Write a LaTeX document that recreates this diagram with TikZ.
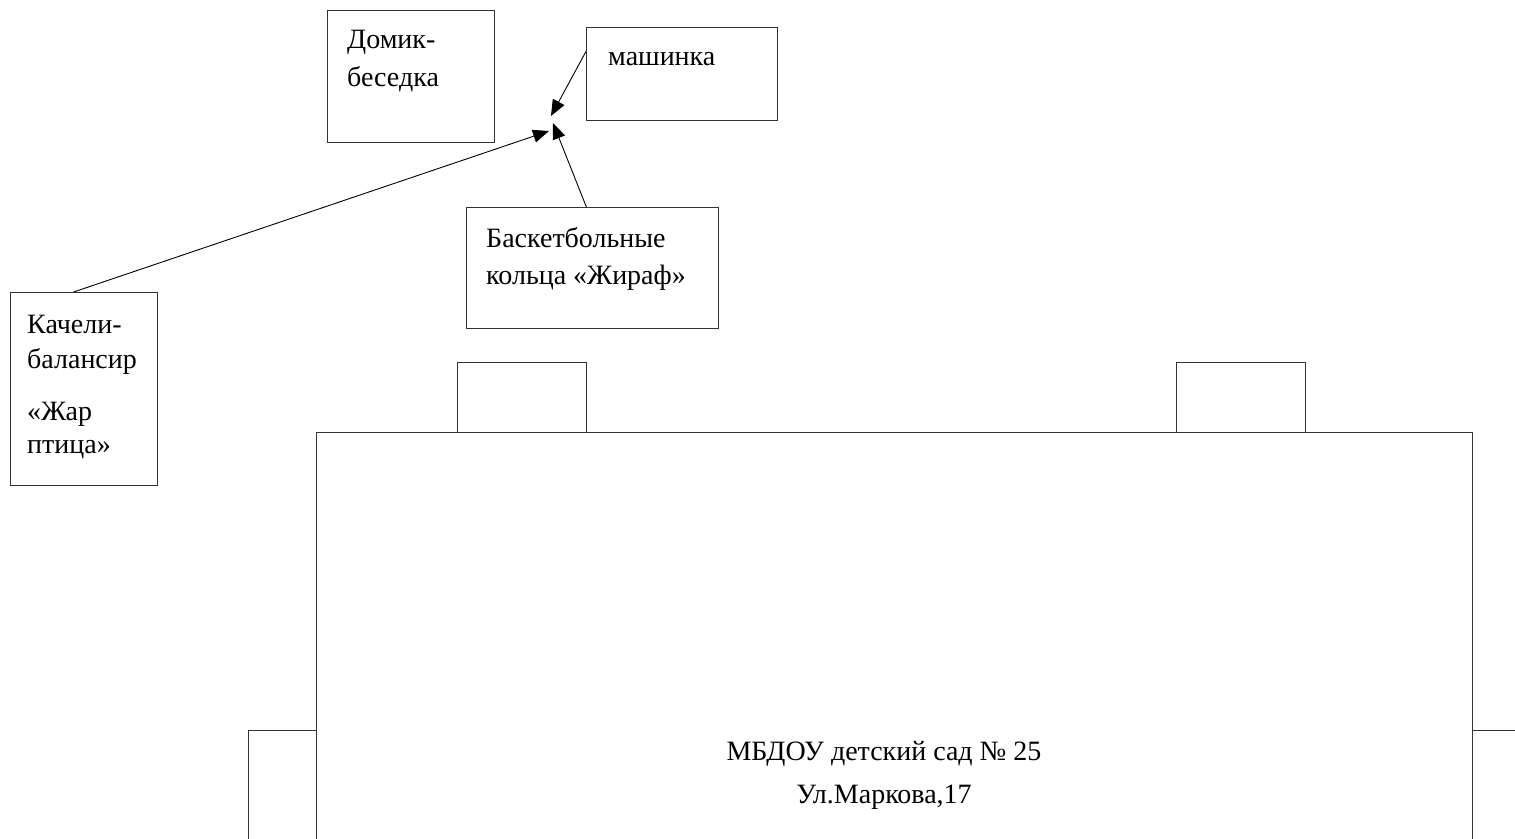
\documentclass[tikz,border=0pt]{standalone}
\usepackage{fontspec}
\setmainfont{Liberation Serif}
\usetikzlibrary{arrows.meta,calc}
\begin{document}
\begin{tikzpicture}[x=1pt,y=-1pt,
  box/.style={draw=black!80, line width=0.9pt, inner sep=0pt, anchor=north west},
  lbl/.style={anchor=base west, inner sep=0pt, font=\fontsize{28}{34}\selectfont},
  clbl/.style={anchor=base, inner sep=0pt, font=\fontsize{28}{34}\selectfont},
  conn/.style={line width=0.9pt, -{Triangle[length=16pt,width=13pt]}}]
\useasboundingbox (0,0) rectangle (1515,838);
\fill[white] (0,0) rectangle (1515,838);
\begin{scope}
\clip (0,0) rectangle (1515,838);
% boxes
\node[box, minimum width=167pt, minimum height=132pt] (dom) at (327,10) {};
\node[box, minimum width=191pt, minimum height=93pt] (mash) at (586,27) {};
\node[box, minimum width=252pt, minimum height=121pt] (bask) at (466,207) {};
\node[box, minimum width=147pt, minimum height=193pt] (kach) at (10,292) {};
\node[box, minimum width=129pt, minimum height=70pt] (sma) at (457,362) {};
\node[box, minimum width=129pt, minimum height=70pt] (smb) at (1176,362) {};
\node[box, minimum width=68pt, minimum height=130pt] (lbox) at (248,730) {};
\node[box, minimum width=100pt, minimum height=130pt] (rbox) at (1472,730) {};
\node[box, fill=white, minimum width=1156pt, minimum height=430pt] (main) at (316,432) {};
% texts
\node[lbl] (dom1) at (347,48) {Домик-};
\node[lbl] (dom2) at (347,86) {беседка};
\node[lbl] (mash1) at (608,65) {машинка};
\node[lbl] (bask1) at (486,247) {Баскетбольные};
\node[lbl] (bask2) at (486,284) {кольца «Жираф»};
\node[lbl] (kach1) at (27,333) {Качели-};
\node[lbl] (kach2) at (27,368) {балансир};
\node[lbl] (kach3) at (27,420) {«Жар};
\node[lbl] (kach4) at (27,453) {птица»};
\node[clbl] (main1) at (884,760) {МБДОУ детский сад № 25};
\node[clbl] (main2) at (884,803) {Ул.Маркова,17};
% connectors
\coordinate (t1) at (551,116);
\coordinate (t2) at (549,131);
\coordinate (t3) at (553,123);
\draw[conn] ($(mash.north west)!0.26!(mash.south west)$) -- (t1);
\draw[conn] ($(kach.north west)!0.43!(kach.north east)$) -- (t2);
\draw[conn] ($(bask.north west)!0.476!(bask.north east)$) -- (t3);
\end{scope}
\end{tikzpicture}
\end{document}
